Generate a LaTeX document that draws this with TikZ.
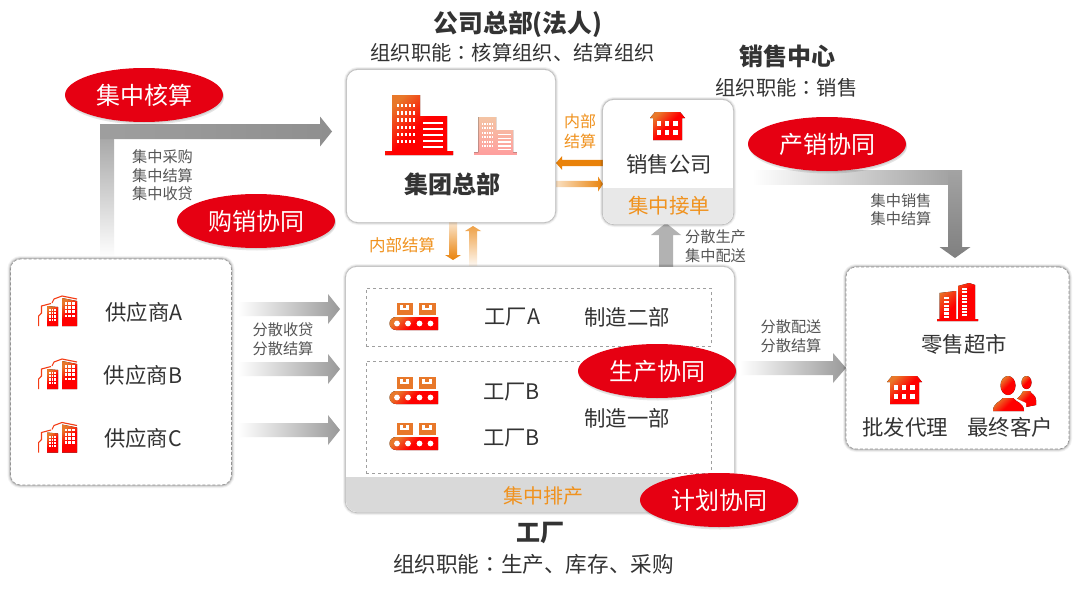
\documentclass[tikz,border=0pt]{standalone}
\usepackage{fontspec}
\setmainfont{Noto Sans CJK SC}
\newfontfamily\tcfont{Noto Sans CJK TC}
\usetikzlibrary{shapes.geometric,calc}
\definecolor{hred}{HTML}{E60012}
\definecolor{orgt}{HTML}{F0921E}
\definecolor{orga}{HTML}{E9820A}
\definecolor{dark}{HTML}{333333}
\definecolor{midt}{HTML}{555555}
\definecolor{iorg}{HTML}{E8782A}
\definecolor{bandg}{HTML}{D9D9D9}
\definecolor{paleo}{HTML}{F4C4A4}
\definecolor{paler}{HTML}{FF9E9E}
\newcommand\fs[1]{\fontsize{#1}{#1}\selectfont}
\newcommand\cn{{\tcfont ：}}
\tikzset{
  softbox/.style={rectangle,rounded corners=#1,fill=white,inner sep=0pt,
    preaction={draw=black,solid,opacity=.05,line width=6pt},
    preaction={draw=black,solid,opacity=.08,line width=4pt},
    preaction={draw=black,solid,opacity=.14,line width=2.2pt}},
  solidbox/.style={softbox=11pt,draw=white,line width=.3pt},
  dashbox/.style={softbox=10pt,draw=gray!85,densely dashed,line width=.6pt},
  inner dash/.style={rectangle,draw=gray!75,dashed,line width=.9pt,inner sep=0pt},
  badge/.style={ellipse,fill=hred,text=white,minimum width=158pt,minimum height=54pt,inner sep=0pt,font=\fs{24},
    preaction={fill=black,opacity=.10,transform canvas={xshift=1pt,yshift=-2.5pt}},
    preaction={fill=black,opacity=.08,transform canvas={xshift=1pt,yshift=-1pt}}},
  body/.style={text=dark,inner sep=0pt,font=\fs{21.4}},
  small/.style={text=midt,inner sep=0pt,align=center,font=\fs{15.2}\linespread{1.22}\selectfont},
  otext/.style={text=orgt,inner sep=0pt,align=center},
  title/.style={text=dark,inner sep=0pt,font=\bfseries\fs{24}},
  role/.style={text=dark,inner sep=0pt,font=\fs{20.3}},
  ishade/.style={top color=iorg,bottom color=red,middle color=red,shading angle=45},
  gfade/.style={left color=white,right color=gray!80},
  gray flat/.style={fill=black!30},
}
% horizontal block arrow: from, to, half shaft, half head, signed head length, options
\newcommand\harrow[6]{\path[#6] let \p1=(#1),\p2=(#2) in
  (\x1,\y1+#3pt) -- (\x2-#5pt,\y1+#3pt) -- (\x2-#5pt,\y1+#4pt) -- (\x2,\y1)
  -- (\x2-#5pt,\y1-#4pt) -- (\x2-#5pt,\y1-#3pt) -- (\x1,\y1-#3pt) -- cycle;}
% vertical block arrow: signed head length is canvas-upward
\newcommand\varrow[6]{\path[#6] let \p1=(#1),\p2=(#2) in
  (\x1+#3pt,\y1) -- (\x1+#3pt,\y2-#5pt) -- (\x1+#4pt,\y2-#5pt) -- (\x1,\y2)
  -- (\x1-#4pt,\y2-#5pt) -- (\x1-#3pt,\y2-#5pt) -- (\x1-#3pt,\y1) -- cycle;}
% icons
\newcommand\iconhq[3]{\begin{scope}[shift={#1},scale=#2]
  \fill[#3] (7,0) -- (35,0) -- (35,21) -- (62,21) -- (62,56) -- (68,56) -- (68,60) -- (0,60) -- (0,56) -- (7,56) -- cycle;
  \foreach \i in {0,...,4}{\foreach \j in {0,...,5}{\fill[white] (12+\i*4,9+\j*7.2) rectangle +(2.4,3.4);}}
  \foreach \j in {0,...,4}{\fill[white] (38,27+\j*5.9) rectangle +(20,2.2);}
\end{scope}}
\newcommand\iconhouse[1]{\begin{scope}[shift={#1}]
  \fill[ishade] (5,0) -- (30,0) -- (35,6) -- (32,6) -- (32,28) -- (3,28) -- (3,6) -- (0,6) -- cycle;
  \foreach \i in {0,1,2}{\foreach \j in {0,1}{\fill[white] (7+\i*8.2,9+\j*8.5) rectangle +(4.2,5.3);}}
\end{scope}}
\newcommand\iconsupp[1]{\begin{scope}[shift={#1}]
  \draw[iorg!50!red,line width=1.1pt] (.6,31) -- (.6,21) -- (3.5,18) -- (3.5,11) -- (13,8.5);
  \draw[iorg!50!red,line width=1.1pt] (14,8) -- (16,4) -- (24,1) -- (39,4);
  \fill[ishade] (9,11) -- (20,12) -- (20,31) -- (9,31) -- cycle;
  \fill[ishade] (24,3) -- (39,6) -- (39,31) -- (24,31) -- cycle;
  \foreach \i in {0,1,2}{\foreach \j in {0,...,3}{\fill[white] (10.8+\i*2.7,14+\j*3.2) rectangle +(1.7,2.1);}}
  \foreach \i in {0,1,2}{\foreach \j in {0,...,3}{\fill[white] (26.5+\i*3.9,7+\j*4.2) rectangle +(2.5,2.8);}}
\end{scope}}
\newcommand\iconfac[1]{\begin{scope}[shift={#1}]
  \foreach \x in {6.5,29}{
    \fill[iorg] (\x,0) rectangle +(16.5,11.5);
    \fill[white] (\x+3,1.5) rectangle +(3.2,3.6);
    \fill[white] (\x+9.5,1.5) rectangle +(3.2,3.6);
    \fill[white] (\x+3,5.1) rectangle +(9.7,2.2);
  }
  \fill[ishade] (48,14) -- (48,27) -- (6,27) arc[start angle=90,end angle=270,radius=6.5] -- cycle;
  \foreach \x in {7,18,29.5,40.5}{\fill[white] (\x,20.5) circle (2.9);}
\end{scope}}
\newcommand\iconretail[1]{\begin{scope}[shift={#1}]
  \fill[ishade] (0,36) -- (2.5,36) -- (2.5,10) -- (19,8) -- (19,36) -- (21,36) -- (21,3) -- (32,0) -- (38,2) -- (38,36) -- (41,36) -- (41,38) -- (0,38) -- cycle;
  \foreach \j in {0,...,5}{\fill[white] (7,14+\j*3.8) rectangle +(5,2.3);}
  \foreach \j in {0,...,8}{\fill[white] (24.5,5+\j*3.3) rectangle +(5,2);}
\end{scope}}
\newcommand\iconpeople[1]{\begin{scope}[shift={#1}]
  \fill[ishade] (33.5,6.5) ellipse (5 and 6.5);
  \fill[ishade] (24,23) .. controls (28,19) and (30,16) .. (30,15) -- (37,15) .. controls (38,18) and (43,19) .. (43,24) -- (43,29) -- (33,31) -- cycle;
  \fill[white] (15,9.5) ellipse (9 and 11);
  \fill[white] (-1,36) -- (-1,27) -- (9,22) -- (22,22) -- (33,27) -- (33,36) -- cycle;
  \fill[ishade] (15,9.5) ellipse (7.5 and 9.5);
  \fill[ishade] (0,35) .. controls (0,27) and (7,26) .. (10,22) -- (20,22) .. controls (23,26) and (31,27) .. (31,35) -- cycle;
\end{scope}}
\begin{document}
\begin{tikzpicture}[x=1pt,y=-1pt]
\useasboundingbox (0,0) rectangle (1080,589);
\fill[white] (0,0) rectangle (1080,589);

% free arrow ends
\coordinate (a1h) at (100,131.5); \coordinate (a1e) at (332,131.5);
\coordinate (a2c) at (955,170); \coordinate (a2t) at (955,258);
\coordinate (s1) at (238,309); \coordinate (t1) at (340,309);
\coordinate (s2) at (238,369); \coordinate (t2) at (340,369);
\coordinate (s3) at (238,430); \coordinate (t3) at (340,430);
\coordinate (s4) at (740,368); \coordinate (t4) at (846,368);
\coordinate (o1s) at (603,163); \coordinate (o1e) at (556,163);
\coordinate (o2s) at (556,184); \coordinate (o2e) at (603,184);
\coordinate (o3s) at (453,222); \coordinate (o3e) at (453,260);
\coordinate (o4s) at (473,266); \coordinate (o4e) at (473,226);
\coordinate (g1s) at (666,268); \coordinate (g1e) at (666,223);

% elbow arrows and block arrows
\fill[top color=black!36,bottom color=white] (100,131) rectangle (114,258);
\harrow{a1h}{a1e}{7.5}{15}{12}{left color=black!38,right color=black!44}
\fill[left color=white,right color=black!36] (752,170) rectangle (948,184);
\varrow{a2c}{a2t}{7}{15.5}{-11}{top color=black!36,bottom color=black!50}
\harrow{s1}{t1}{7}{15}{12}{gfade}
\harrow{s2}{t2}{7}{15}{12}{gfade}
\harrow{s3}{t3}{7}{15}{12}{gfade}
\harrow{s4}{t4}{7}{15}{13}{gfade}
\harrow{o1s}{o1e}{3.2}{6.8}{-6}{fill=orga}
\harrow{o2s}{o2e}{3.2}{7.5}{5}{left color=orga!25,right color=orga}
\varrow{o3s}{o3e}{4}{8}{-5}{top color=orga!20,bottom color=orga}
\varrow{o4s}{o4e}{4}{8}{5}{bottom color=orga!5,top color=orga!75}
\varrow{g1s}{g1e}{7}{15}{12}{gray flat}

% headquarters
\node[solidbox,minimum width=208pt,minimum height=152pt] (hq) at (451,146) {};
\iconhq{(385,95)}{1}{ishade}
\iconhq{(474,117)}{.63}{top color=paleo,bottom color=paler}
\node[title] (hqname) at (452,184) {集团总部};

% sales company
\node[solidbox,minimum width=130pt,minimum height=124pt] (sales) at (668,162) {};
\fill[black!9] (603,188) -- (733,188) {[rounded corners=11pt] -- (733,224) -- (603,224)} -- cycle;
\iconhouse{(650,112)}
\node[body] (salesname) at (669,164) {销售公司};
\node[otext,font=\fs{20.5}] (salesband) at (669,206) {集中接单};

% factory
\node[solidbox,minimum width=388pt,minimum height=245pt] (fac) at (540,389.5) {};
\fill[bandg] (346,477) -- (734,477) {[rounded corners=11pt] -- (734,512) -- (346,512)} -- cycle;
\node[otext,font=\fs{20}] (facband) at (543,496) {集中排产};
\node[inner dash,minimum width=345pt,minimum height=58pt] (depa) at (538.5,317) {};
\node[inner dash,minimum width=345pt,minimum height=112pt] (depb) at (538.5,417) {};
\iconfac{(390,303)}
\iconfac{(390,377)}
\iconfac{(390,423)}
\node[body] (fa) at (512.5,317) {工厂A};
\node[body] (fb1) at (511.5,392) {工厂B};
\node[body] (fb2) at (511.5,438) {工厂B};
\node[body] (d2) at (627,317) {制造二部};
\node[body] (d1) at (627,418) {制造一部};

% suppliers
\node[dashbox,minimum width=221pt,minimum height=226pt] (sup) at (121,372) {};
\iconsupp{(38,295)}
\iconsupp{(38,358)}
\iconsupp{(38,421.5)}
\node[body] (sa) at (144,312) {供应商A};
\node[body] (sb) at (143,375) {供应商B};
\node[body] (sc) at (143,438) {供应商C};

% retail
\node[dashbox,minimum width=223pt,minimum height=182pt] (ret) at (957.5,358) {};
\iconretail{(937,283)}
\iconhouse{(887,376)}
\iconpeople{(993,376)}
\node[body] (r0) at (964,344) {零售超市};
\node[body] (r1) at (905,427) {批发代理};
\node[body] (r2) at (1010,427) {最终客户};

% titles
\node[title,font=\bfseries\fs{24.8}] (t1h) at (518,24) {公司总部(法人)};
\node[role] (t1r) at (512.5,53) {组织职能\cn 核算组织、结算组织};
\node[title] (t2h) at (787,56) {销售中心};
\node[role] (t2r) at (786.5,88) {组织职能\cn 销售};
\node[title] (t3h) at (540,533) {工厂};
\node[role,font=\fs{21.6}] (t3r) at (533.5,564) {组织职能\cn 生产、库存、采购};

% small labels
\node[small] (l1) at (162.5,175.5) {集中采购\\集中结算\\集中收贷};
\node[small] (l2) at (283,339) {分散收贷\\分散结算};
\node[small] (l3) at (715.5,246) {分散生产\\集中配送};
\node[small] (l4) at (901,209.5) {集中销售\\集中结算};
\node[small] (l5) at (791,336) {分散配送\\分散结算};
\node[otext,font=\fs{16}\linespread{1.25}\selectfont] (l6) at (580,131) {内部\\结算};
\node[otext,font=\fs{16.5}] (l7) at (402,245) {内部结算};

% badges
\node[badge] (b1) at (144,95) {集中核算};
\node[badge] (b2) at (256,221) {购销协同};
\node[badge] (b3) at (827,144) {产销协同};
\node[badge] (b4) at (657,371) {生产协同};
\node[badge] (b5) at (719,500) {计划协同};
\end{tikzpicture}
\end{document}
